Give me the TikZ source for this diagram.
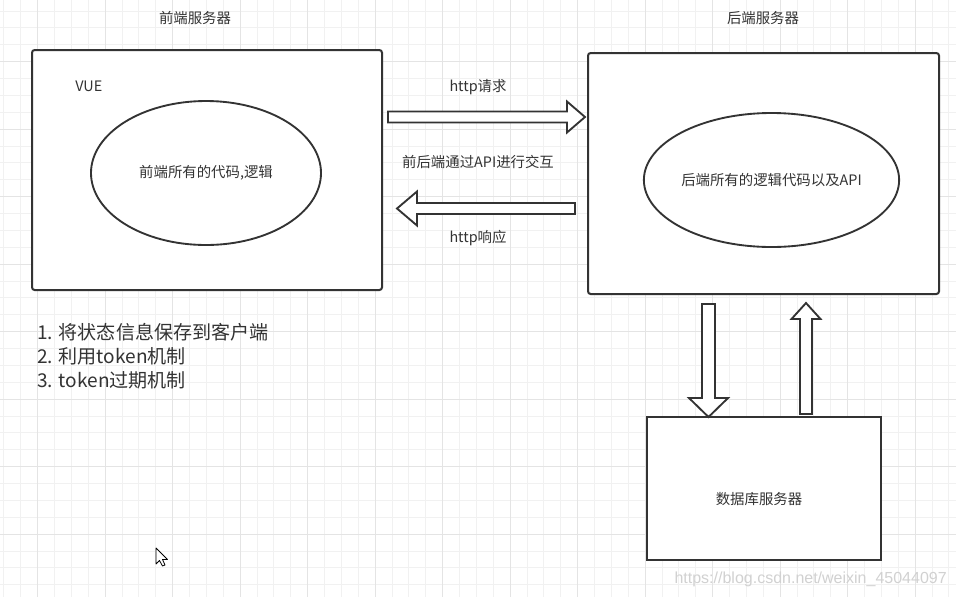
\documentclass[tikz,border=0pt]{standalone}
\usepackage{fontspec}
\newfontfamily\cjk{Noto Sans CJK SC}
\setsansfont{Liberation Sans}
\usetikzlibrary{shapes.geometric,calc}
\definecolor{ink}{HTML}{333333}
\definecolor{gridminor}{HTML}{F1F1F1}
\definecolor{gridmajor}{HTML}{E4E4E4}
\tikzset{
	server/.style={draw=ink,line width=1.5pt,rounded corners=2pt,fill=white,inner sep=0pt},
	dbbox/.style={draw=ink,line width=1.5pt,fill=white,inner sep=0pt},
	logic/.style={ellipse,draw=ink,line width=1.4pt,fill=white,inner sep=0pt,text=ink,font=\cjk\fontsize{10.8}{13}\selectfont},
	lbl/.style={text=ink,font=\cjk\fontsize{10.8}{13}\selectfont,inner sep=0pt},
	pipe/.style={draw=ink,line width=1.4pt,fill=white,line join=miter}
}
\begin{document}
\begin{tikzpicture}[x=0.75pt,y=-0.75pt]
	\useasboundingbox[fill=white] (0,0) rectangle (956,597);
	% grid
	\foreach \i in {0,...,56} \draw[gridminor,line width=0.75pt] (3.95+\i*16.875,0) -- (3.95+\i*16.875,597);
	\foreach \i in {0,...,35} \draw[gridminor,line width=0.75pt] (0,11+\i*16.875) -- (956,11+\i*16.875);
	\foreach \i in {0,...,13} \draw[gridmajor,line width=0.75pt] (37.7+\i*67.5,0) -- (37.7+\i*67.5,597);
	\foreach \i in {0,...,8} \draw[gridmajor,line width=0.75pt] (0,61.7+\i*67.5) -- (956,61.7+\i*67.5);

	% front end
	\node[lbl] (fronttitle) at (195,18) {前端服务器};
	\node[server,minimum width=350*0.75pt,minimum height=240*0.75pt] (front) at (207,170) {};
	\node[lbl,anchor=west] (vue) at (75,86) {VUE};
	\node[logic,minimum width=230*0.75pt,minimum height=144*0.75pt] (frontcode) at (206,173) {前端所有的代码,逻辑};

	% back end
	\node[lbl] (backtitle) at (763,18) {后端服务器};
	\node[server,minimum width=351*0.75pt,minimum height=241*0.75pt] (back) at (763.5,173.5) {};
	\node[logic,minimum width=249*0.75pt,minimum height=134*0.75pt] (backcode) at (771.5,180) {后端所有的逻辑代码以及API};

	% database
	\node[dbbox,minimum width=234*0.75pt,minimum height=143*0.75pt] (db) at (764,488.5) {};
	\node[lbl] (dblabel) at (759,499) {数据库服务器};

	% arrows
	\coordinate (reqtail) at (388,117);
	\coordinate (reqtip) at (585,117);
	\coordinate (resptail) at (575,208.5);
	\coordinate (resptip) at (397,208.5);
	\coordinate (downtail) at (708.5,304);
	\coordinate (downtip) at (708.5,417);
	\coordinate (uptail) at (806,414);
	\coordinate (uptip) at (806,303);
	\draw[pipe] ($(reqtail)+(0,-5.5)$) -- ($(reqtip)+(-18,-5.5)$) -- ($(reqtip)+(-18,-15.5)$) -- (reqtip)
		-- ($(reqtip)+(-18,15.5)$) -- ($(reqtip)+(-18,5.5)$) -- ($(reqtail)+(0,5.5)$) -- cycle;
	\draw[pipe] ($(resptail)+(0,-5.5)$) -- ($(resptip)+(20,-5.5)$) -- ($(resptip)+(20,-17)$) -- (resptip)
		-- ($(resptip)+(20,17)$) -- ($(resptip)+(20,5.5)$) -- ($(resptail)+(0,5.5)$) -- cycle;
	\draw[pipe] ($(downtail)+(-6.5,0)$) -- ($(downtip)+(-6.5,-19)$) -- ($(downtip)+(-19.5,-19)$) -- (downtip)
		-- ($(downtip)+(19.5,-19)$) -- ($(downtip)+(6.5,-19)$) -- ($(downtail)+(6.5,0)$) -- cycle;
	\draw[pipe] ($(uptail)+(-6,0)$) -- ($(uptip)+(-6,16)$) -- ($(uptip)+(-14.5,16)$) -- (uptip)
		-- ($(uptip)+(14.5,16)$) -- ($(uptip)+(6,16)$) -- ($(uptail)+(6,0)$) -- cycle;
	\node[lbl] (reqlabel) at (478,87) {http请求};
	\node[lbl] (apilabel) at (478,162) {前后端通过API进行交互};
	\node[lbl] (resplabel) at (478,238) {http响应};

	% notes
	\node[anchor=north west,align=left,inner sep=0pt,text=ink,font=\cjk\fontsize{14.3}{18}\selectfont] (notes) at (37,323) {1. 将状态信息保存到客户端\\2. 利用token机制\\3. token过期机制};

	% cursor
	\draw[black,line width=0.6pt,fill=white,line join=round] (156,548) -- (156,564) -- (159.5,560.5) -- (162.5,566) -- (165,565) -- (162.5,559.5) -- (167.5,559.5) -- cycle;

	% watermark
	\node[anchor=east,inner sep=0pt,text=black!18,font=\sffamily\fontsize{12}{14}\selectfont] (mark) at (947,579) {https://blog.csdn.net/weixin\_45044097};
\end{tikzpicture}
\end{document}
